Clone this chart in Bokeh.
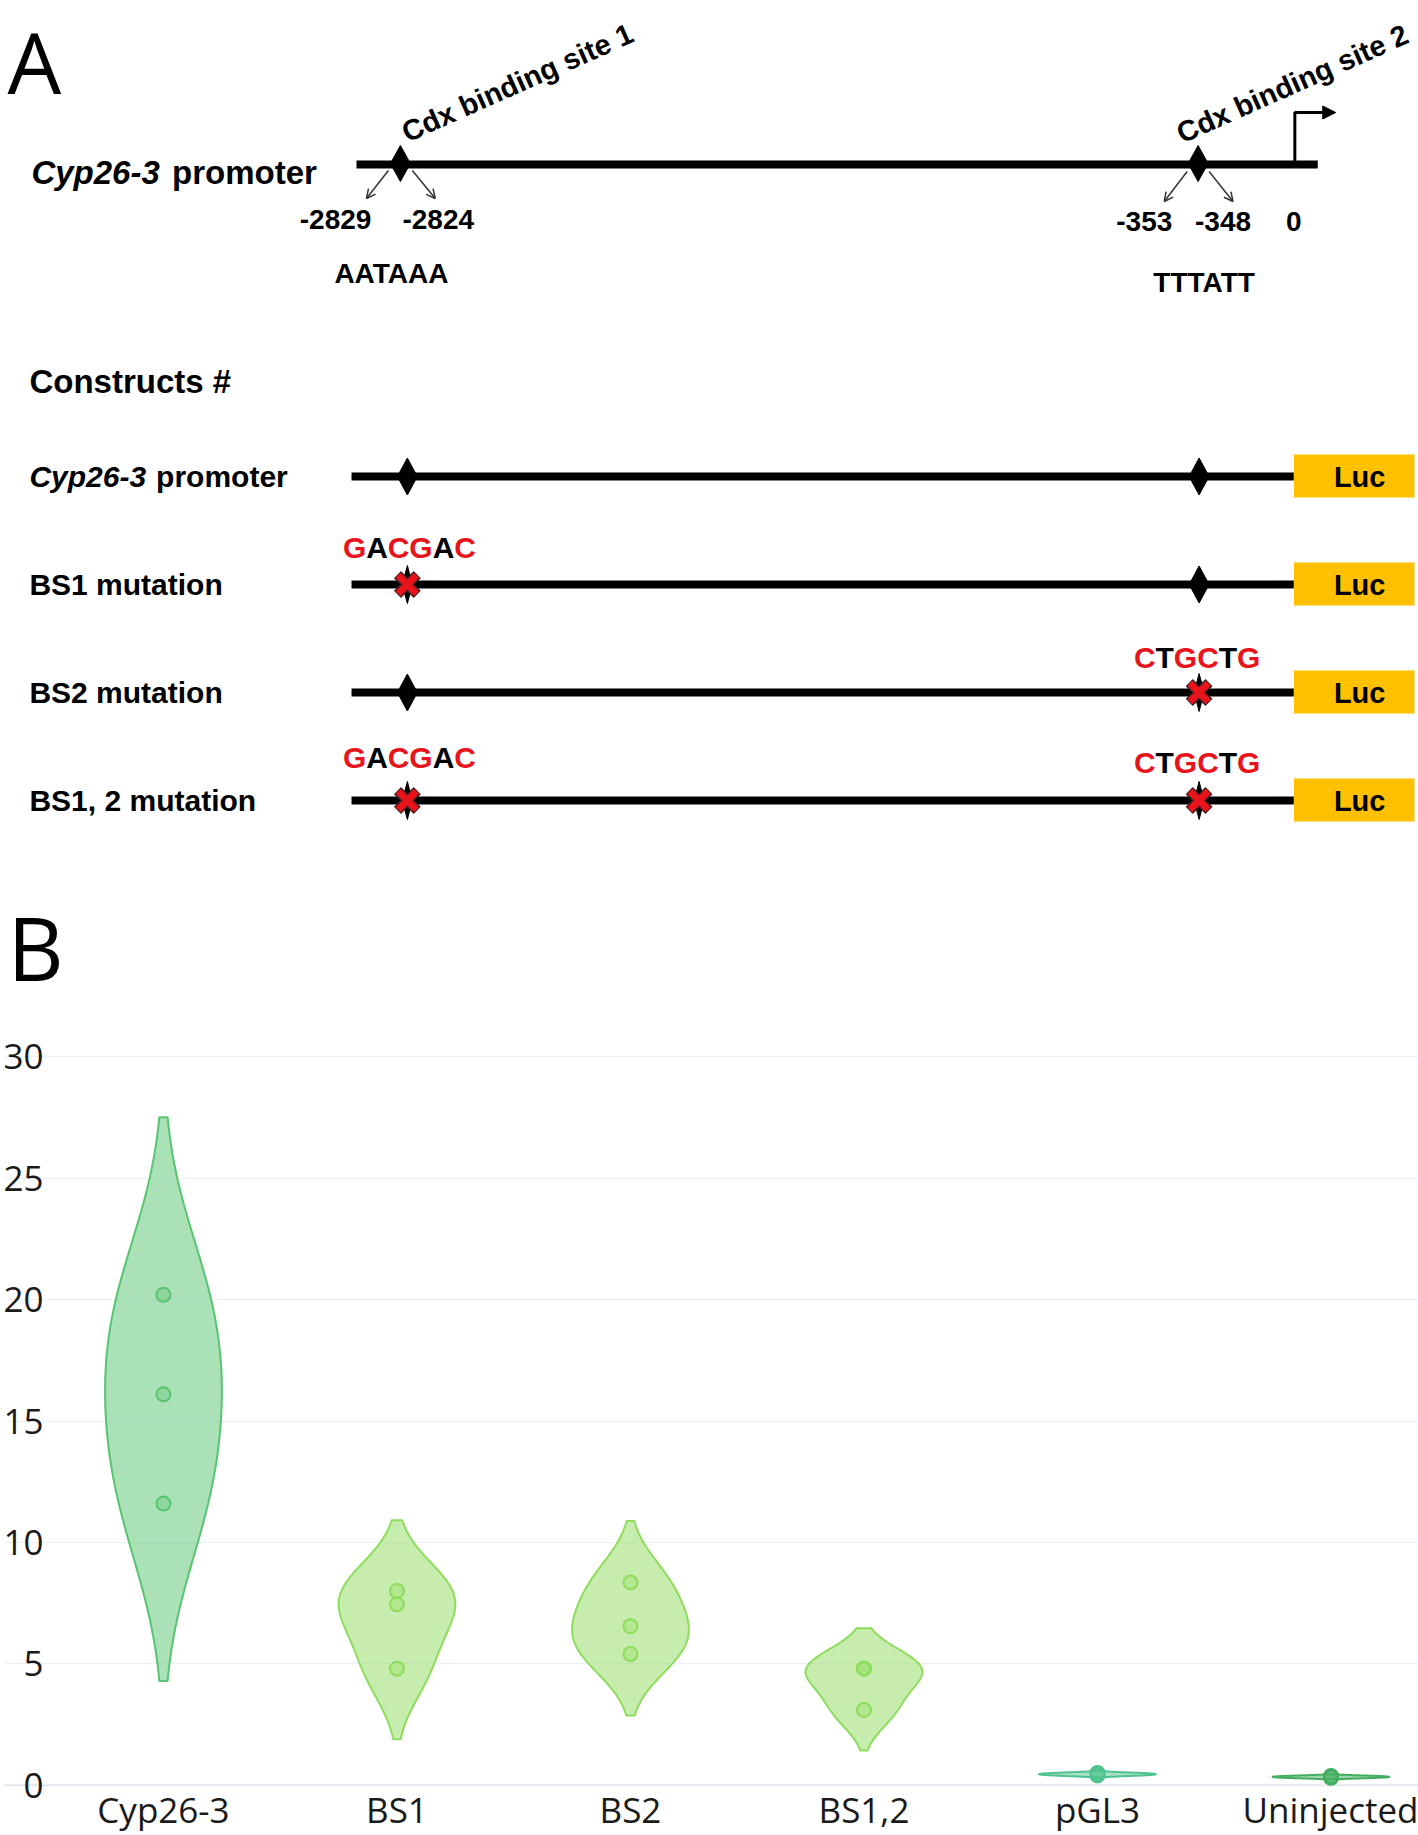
import numpy as np
from bokeh.plotting import figure
from bokeh.layouts import column
from bokeh.models import Range1d, FixedTicker, Arrow, NormalHead, OpenHead, Span
from bokeh.core.properties import value
from bokeh.embed import file_html
from bokeh.resources import INLINE

# ---------------- data (panel A) ----------------
promoter_name = "Cyp26-3"
promoter_word = "promoter"
site_names = ["Cdx binding site 1", "Cdx binding site 2"]
site_start_labels = ["-2829", "-353"]
site_end_labels = ["-2824", "-348"]
tss_label = "0"
site_seqs = ["AATAAA", "TTTATT"]
constructs_title = "Constructs #"
construct_names = ["promoter", "BS1 mutation", "BS2 mutation", "BS1, 2 mutation"]
construct_mut1 = [False, True, False, True]
construct_mut2 = [False, False, True, True]
mut_seq1 = "GACGAC"
mut_seq1_red = [True, False, True, True, False, True]
mut_seq2 = "CTGCTG"
mut_seq2_red = [True, False, True, True, False, True]
reporter = "Luc"

# ---------------- data (panel B) ----------------
categories = ["Cyp26-3", "BS1", "BS2", "BS1,2", "pGL3", "Uninjected"]
vals_cyp = [20.2, 16.1, 11.6]
vals_bs1 = [8.0, 7.45, 4.8]
vals_bs2 = [8.35, 6.55, 5.4]
vals_bs12 = [4.8, 4.8, 3.1]
vals_pgl3 = [0.5, 0.45, 0.4]
vals_uninj = [0.38, 0.34, 0.30]
y_ticks = [0, 5, 10, 15, 20, 25, 30]
violin_colors = ["#58C470", "#8EDC5C", "#8EDC5C", "#8EDC5C", "#4FC490", "#44AE60"]

# ---------------- styles ----------------
ARIAL = "Liberation Sans"
OPEN = "Open Sans"
RED = "#E8141C"
BLACK = "#000000"
LUC_COLOR = "#FFC000"

PAGE_W, PAGE_H = 1418, 1835
SPLIT = 1010  # page y where panel B figure begins


def txt(p, x, y, s, size, color=BLACK, style="bold", align="left",
        baseline="middle", angle=0.0, font=ARIAL):
    p.text(x=[x], y=[y], text=[s], text_font=value(font),
           text_font_size=f"{size}px", text_font_style=style,
           text_color=color, text_align=align, text_baseline=baseline,
           angle=angle)


ARIAL_BOLD_W = {"G": 0.778, "A": 0.722, "C": 0.722, "T": 0.611}


def colored_seq(p, seq, reds, cx, cy, size):
    widths = [ARIAL_BOLD_W[c] * size for c in seq]
    x = cx - sum(widths) / 2.0
    for c, w, r in zip(seq, widths, reds):
        txt(p, x, cy, c, size, color=RED if r else BLACK)
        x += w


def diamond(p, cx, cy, hw, hh):
    p.patch([cx - hw, cx, cx + hw, cx], [cy, cy - hh, cy, cy + hh],
            fill_color=BLACK, line_color=BLACK, line_width=1)


def xmark(p, cx, cy):
    p.scatter([cx], [cy], marker="x", size=28, line_width=10, line_color="#3a2020")
    p.scatter([cx], [cy], marker="x", size=26, line_width=7, line_color=RED)


# ================= Panel A =================
pA = figure(width=PAGE_W, height=SPLIT, x_range=Range1d(0, PAGE_W),
            y_range=Range1d(SPLIT, 0), output_backend="svg",
            toolbar_location=None, x_axis_location=None,
            y_axis_location=None, min_border=0)
pA.grid.visible = False
pA.outline_line_color = None

txt(pA, 3, 60, "A", 85, style="normal", font=OPEN)

# top promoter map
txt(pA, 27, 172, promoter_name, 33, style="bold italic")
txt(pA, 168, 172, promoter_word, 33)
pA.line([353, 1317], [164, 164], line_width=8, line_color=BLACK)
site_x = [397, 1197]
for sx in site_x:
    diamond(pA, sx, 163, 10, 18)
arrow_specs = [((385, 170), (363, 198)), ((409, 170), (432, 198)),
               ((1186, 171), (1163, 201)), ((1208, 171), (1232, 201))]
for (x0, y0), (x1, y1) in arrow_specs:
    pA.add_layout(Arrow(end=OpenHead(size=9, line_width=1.5, line_color="#333333"),
                        x_start=x0, y_start=y0, x_end=x1, y_end=y1,
                        line_width=1.5, line_color="#333333"))
pA.line([1294, 1294, 1322], [164, 112, 112], line_width=3, line_color=BLACK)
pA.add_layout(Arrow(end=NormalHead(size=13, fill_color=BLACK, line_color=BLACK),
                    x_start=1316, y_start=112, x_end=1335, y_end=112,
                    line_width=3, line_color=BLACK))
txt(pA, 332, 219, site_start_labels[0], 28, align="center")
txt(pA, 435, 219, site_end_labels[0], 28, align="center")
txt(pA, 1143, 221, site_start_labels[1], 28, align="center")
txt(pA, 1222, 221, site_end_labels[1], 28, align="center")
txt(pA, 1293, 221, tss_label, 28, align="center")
txt(pA, 388, 273, site_seqs[0], 28, align="center")
txt(pA, 1203, 282, site_seqs[1], 28, align="center")
ang = np.deg2rad(24)
txt(pA, 400, 133, site_names[0], 29, baseline="alphabetic", angle=ang)
txt(pA, 1177, 134, site_names[1], 29, baseline="alphabetic", angle=ang)

# constructs
txt(pA, 25, 381, constructs_title, 33)
row_y = [476, 584, 692, 800]
seq1_y = [None, 547, None, 757]
seq2_y = [None, None, 657, 762]
c_site_x = [404, 1198]
for i, ry in enumerate(row_y):
    if i == 0:
        txt(pA, 25, ry, promoter_name, 30, style="bold italic")
        txt(pA, 152, ry, construct_names[0], 30)
    else:
        txt(pA, 25, ry, construct_names[i], 30)
    pA.line([348, 1293], [ry, ry], line_width=8, line_color=BLACK)
    for k, sx in enumerate(c_site_x):
        mutated = construct_mut1[i] if k == 0 else construct_mut2[i]
        if mutated:
            diamond(pA, sx, ry, 5, 19)
            xmark(pA, sx, ry)
        else:
            diamond(pA, sx, ry, 10, 18.5)
    pA.quad(left=[1293], right=[1414], top=[ry - 22], bottom=[ry + 21],
            fill_color=LUC_COLOR, line_color=None)
    txt(pA, 1359, ry, reporter, 29, align="center")
    if construct_mut1[i]:
        colored_seq(pA, mut_seq1, mut_seq1_red, 406, seq1_y[i], 30)
    if construct_mut2[i]:
        colored_seq(pA, mut_seq2, mut_seq2_red, 1196, seq2_y[i], 30)

txt(pA, 3, 946, "B", 87, style="normal", font=OPEN)

# ================= Panel B =================
K = (1786.6 - 1056.5) / 30.0      # px per unit
ZERO_Y = 1786.6                   # page y of value 0
CAT_X0, CAT_DX = 160.3, 234.0     # page x of first category & spacing
FRAME_TOP = 1044
FRAME_BOTTOM = 1801
FRAME_LEFT = 1
FRAME_RIGHT = PAGE_W

y_end = (ZERO_Y - FRAME_TOP) / K
y_start = -(FRAME_BOTTOM - ZERO_Y) / K
x_start = (FRAME_LEFT - CAT_X0) / CAT_DX
x_end = (FRAME_RIGHT - CAT_X0) / CAT_DX

pB = figure(width=PAGE_W, height=PAGE_H - SPLIT,
            x_range=Range1d(x_start, x_end), y_range=Range1d(y_start, y_end),
            output_backend="svg", toolbar_location=None,
            min_border_left=0, min_border_right=0,
            min_border_top=FRAME_TOP - SPLIT, min_border_bottom=PAGE_H - FRAME_BOTTOM)
pB.outline_line_color = None
pB.xgrid.visible = False
pB.ygrid.grid_line_color = "#EBF0F8"
pB.ygrid.grid_line_width = 1
pB.add_layout(Span(location=0, dimension="width", line_color="#E3E7F0",
                   line_width=2, level="underlay"))

pB.xaxis.ticker = FixedTicker(ticks=list(range(len(categories))))
pB.xaxis.major_label_overrides = {i: c for i, c in enumerate(categories)}
pB.yaxis.ticker = FixedTicker(ticks=y_ticks)
for ax in (pB.xaxis, pB.yaxis):
    ax.axis_line_color = None
    ax.major_tick_line_color = None
    ax.minor_tick_line_color = None
    ax.major_tick_out = 0
    ax.major_tick_in = 0
    ax.major_label_text_font = OPEN
    ax.major_label_text_font_size = "35px"
    ax.major_label_text_color = "#1a1a1a"
pB.xaxis.major_label_standoff = -14
pB.yaxis.major_label_standoff = -39


def violin_shape(vals, center, half_width=0.25, npts=160):
    v = np.asarray(vals, dtype=float)
    n = len(v)
    bw = 1.059 * v.std(ddof=1) * n ** -0.2
    lo, hi = v.min() - 2 * bw, v.max() + 2 * bw
    ys = np.linspace(lo, hi, npts)
    dens = np.exp(-0.5 * ((ys[:, None] - v[None, :]) / bw) ** 2).sum(axis=1)
    dens = dens / dens.max() * half_width
    xs = np.concatenate([center + dens, (center - dens)[::-1]])
    yy = np.concatenate([ys, ys[::-1]])
    return xs, yy


groups = [vals_cyp, vals_bs1, vals_bs2, vals_bs12, vals_pgl3, vals_uninj]
for i, (vals, col) in enumerate(zip(groups, violin_colors)):
    xs, yy = violin_shape(vals, i)
    pB.patch(xs, yy, fill_color=col, fill_alpha=0.5, line_color=col, line_width=2)
    pB.scatter([i] * len(vals), vals, size=14, marker="circle",
               fill_color=col, fill_alpha=0.35, line_color=col, line_width=2)

layout = column(pA, pB, spacing=0)
open("out.html", "w").write(file_html(layout, INLINE))
